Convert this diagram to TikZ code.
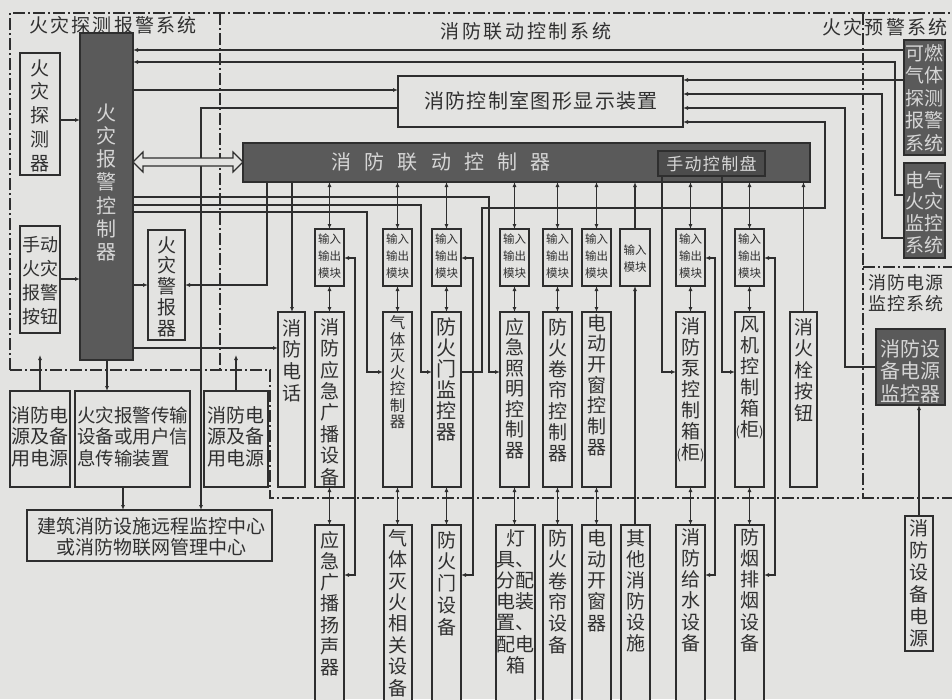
\documentclass[tikz,border=0pt]{standalone}
\usepackage{fontspec}
\setmainfont{Noto Sans CJK SC}
\usetikzlibrary{arrows.meta,fit}
\definecolor{bg}{HTML}{E3E3E1}
\definecolor{lc}{HTML}{2E2E2E}
\definecolor{tc}{HTML}{303030}
\definecolor{dk}{HTML}{5A5A5A}
\definecolor{dkt}{HTML}{D6D6D6}
\definecolor{mp}{HTML}{4C4C4C}
\newcommand{\mkbox}[6][bx]{\node[#1, fit={(#3,#4)(#5,#6)}] (#2) {};}
\newcommand{\fs}[2]{\fontsize{#1}{#2}\selectfont}
\newcommand{\gui}{{\fs{13}{13}(}柜{\fs{13}{13})}}
\begin{document}
\begin{tikzpicture}[x=1pt,y=-1pt,
 bx/.style={draw=lc, line width=1.3pt, fill=bg, inner sep=0pt, outer sep=0pt},
 dbx/.style={bx, fill=dk},
 tx/.style={text=tc, inner sep=0pt, align=center},
 dtx/.style={tx, text=dkt},
 wire/.style={draw=lc, line width=1.1pt},
 ar/.style={wire, -{Latex[length=5pt,width=4pt]}},
 bar/.style={wire, {Latex[length=5pt,width=4pt]}-{Latex[length=5pt,width=4pt]}},
 frame/.style={draw=lc, line width=1.2pt, dash pattern=on 12pt off 3pt on 2pt off 3pt},
]
\useasboundingbox (0,0) rectangle (952,699);
\clip (0,0) rectangle (952,699);
\fill[bg] (0,0) rectangle (952,699);

% frames
\draw[frame] (10,370) -- (10,13) -- (952,13);
\draw[frame] (220,13) -- (220,370);
\draw[frame] (10,370) -- (270,370) -- (270,498) -- (952,498);
\draw[frame] (863,13) -- (863,498);
\draw[frame] (863,267) -- (952,267);

% titles
\node[tx,font=\fs{19}{19}\addfontfeature{LetterSpace=12}] (t1) at (113,25) {火灾探测报警系统};
\node[tx,font=\fs{19}{19}\addfontfeature{LetterSpace=14}] (t2) at (526,31) {消防联动控制系统};
\node[tx,font=\fs{19}{19}\addfontfeature{LetterSpace=12}] (t3) at (885,27) {火灾预警系统};
\node[tx,font=\fs{18}{21}\addfontfeature{LetterSpace=4},align=left] (t4) at (906,293.5) {消防电源\\监控系统};

% left system
\mkbox{det}{20}{53}{60}{175}
\node[tx,font=\fs{19}{23.75}] (det-t) at (40,115.5) {火\\灾\\探\\测\\器};
\mkbox[dbx]{facp}{80}{33}{133}{360}
\node[dtx,font=\fs{20}{23.2}] (facp-t) at (106.5,182.5) {火\\灾\\报\\警\\控\\制\\器};
\mkbox{mcp}{20}{226}{60}{333}
\node[tx,font=\fs{18}{24}] (mcp-t) at (40,281) {手动\\火灾\\报警\\按钮};
\mkbox{alarm}{148}{230}{185}{340}
\node[tx,font=\fs{19}{20.75}] (alarm-t) at (166.5,286.5) {火\\灾\\警\\报\\器};
\mkbox{pw1}{10}{391}{70}{487}
\node[tx,font=\fs{19}{21.5}] (pw1-t) at (40,436.5) {消防电\\源及备\\用电源};
\mkbox{trans}{75}{391}{190}{487}
\node[tx,font=\fs{18.5}{21.5},align=left] (trans-t) at (132.5,436.5) {火灾报警传输\\设备或用户信\\息传输装置};
\mkbox{pw2}{204}{391}{268}{487}
\node[tx,font=\fs{19}{21.5}] (pw2-t) at (236,436.5) {消防电\\源及备\\用电源};
\mkbox{remote}{27}{510}{272}{561}
\node[tx,font=\fs{19}{20.5}] (remote-t) at (151,537) {建筑消防设施远程监控中心\\或消防物联网管理中心};

% display and linkage controller
\mkbox{disp}{398}{76}{683}{127}
\node[tx,font=\fs{20}{20}\addfontfeature{LetterSpace=7}] (disp-t) at (541,101) {消防控制室图形显示装置};
\mkbox[dbx]{ctrl}{243}{143}{810}{182}
\node[dtx,font=\fs{20}{20}\addfontfeature{LetterSpace=66}] (ctrl-t) at (441,162) {消防联动控制器};
\node[bx, fill=mp, fit={(658,151)(765,176)}] (mpanel) {};
\node[dtx,font=\fs{17}{17}\addfontfeature{LetterSpace=8}] (mpanel-t) at (711.5,163.5) {手动控制盘};

% right systems
\mkbox[dbx]{gas}{904}{40}{945}{155}
\node[dtx,font=\fs{19}{22.5}] (gas-t) at (924.5,98) {可燃\\气体\\探测\\报警\\系统};
\mkbox[dbx]{elec}{904}{163}{945}{258}
\node[dtx,font=\fs{19}{21.7}] (elec-t) at (924.5,212.5) {电气\\火灾\\监控\\系统};
\mkbox[dbx]{psm}{876}{329}{945}{405}
\node[dtx,font=\fs{20}{22.5}] (psm-t) at (910.5,371) {消防设\\备电源\\监控器};
\mkbox{psu}{905}{516}{933}{651}
\node[tx,font=\fs{19}{22}] (psu-t) at (919,583) {消\\防\\设\\备\\电\\源};

% modules
\foreach \n/\a/\b in {m1/315/344, m2/383/412, m3/432/461, m4/500/529, m5/543/572, m6/582/611, m7/676/705, m8/735/764} {
 \mkbox{\n}{\a}{229}{\b}{286}
 \node[tx,font=\fs{11.5}{17}] (\n-t) at ({(\a+\b)/2},256) {输入\\输出\\模块};
}
\mkbox{min}{620}{229}{650}{286}
\node[tx,font=\fs{11.5}{17}] (min-t) at (635,258.5) {输入\\模块};

% controllers
\mkbox{phone}{278}{312}{305}{487}
\node[tx,font=\fs{19}{21.7}] (phone-t) at (291.5,360.5) {消\\防\\电\\话};
\mkbox{c1}{315}{312}{344}{487}
\node[tx,font=\fs{19}{21.4}] (c1-t) at (329.5,402) {消\\防\\应\\急\\广\\播\\设\\备};
\mkbox{c2}{383}{312}{412}{487}
\node[tx,font=\fs{15.5}{16.5}] (c2-t) at (397.5,372.5) {气\\体\\灭\\火\\控\\制\\器};
\mkbox{c3}{432}{312}{461}{487}
\node[tx,font=\fs{20}{21}] (c3-t) at (446.5,379.5) {防\\火\\门\\监\\控\\器};
\mkbox{c4}{500}{312}{529}{487}
\node[tx,font=\fs{19}{20.5}] (c4-t) at (514.5,388.5) {应\\急\\照\\明\\控\\制\\器};
\mkbox{c5}{543}{312}{572}{487}
\node[tx,font=\fs{19}{21}] (c5-t) at (557.5,390) {防\\火\\卷\\帘\\控\\制\\器};
\mkbox{c6}{582}{312}{611}{487}
\node[tx,font=\fs{19}{20.7}] (c6-t) at (596.5,385) {电\\动\\开\\窗\\控\\制\\器};
\mkbox{c7}{676}{312}{705}{487}
\node[tx,font=\fs{19}{21}] (c7-t) at (690.5,390) {消\\防\\泵\\控\\制\\箱\\\gui};
\mkbox{c8}{735}{312}{764}{487}
\node[tx,font=\fs{19}{21}] (c8-t) at (749.5,377.5) {风\\机\\控\\制\\箱\\\gui};
\mkbox{hyd}{790}{312}{817}{487}
\node[tx,font=\fs{19}{21.5}] (hyd-t) at (803.5,370) {消\\火\\栓\\按\\钮};

% devices
\mkbox{d1}{315}{525}{344}{720}
\node[tx,font=\fs{19}{21.2}] (d1-t) at (329.5,603.5) {应\\急\\广\\播\\扬\\声\\器};
\mkbox{d2}{384}{525}{412}{720}
\node[tx,font=\fs{19}{21.4}] (d2-t) at (398,613) {气\\体\\灭\\火\\相\\关\\设\\备};
\mkbox{d3}{432}{525}{461}{720}
\node[tx,font=\fs{19}{21.75}] (d3-t) at (446.5,583.5) {防\\火\\门\\设\\备};
\mkbox{d4}{496}{525}{535}{720}
\node[tx,font=\fs{19}{21.2}] (d4-t) at (515.5,601.5) {灯\\具、\\分配\\电装\\置、\\配电\\箱};
\mkbox{d5}{543}{525}{572}{720}
\node[tx,font=\fs{19}{21.4}] (d5-t) at (557.5,591.5) {防\\火\\卷\\帘\\设\\备};
\mkbox{d6}{582}{525}{611}{720}
\node[tx,font=\fs{19}{21.25}] (d6-t) at (596.5,580.5) {电\\动\\开\\窗\\器};
\mkbox{oth}{621}{525}{650}{720}
\node[tx,font=\fs{19}{21}] (oth-t) at (635.5,590.5) {其\\他\\消\\防\\设\\施};
\mkbox{d7}{676}{525}{705}{720}
\node[tx,font=\fs{19}{21.2}] (d7-t) at (690.5,590) {消\\防\\给\\水\\设\\备};
\mkbox{d8}{735}{525}{764}{720}
\node[tx,font=\fs{19}{21.2}] (d8-t) at (749.5,590) {防\\烟\\排\\烟\\设\\备};

% connectors: top area
\draw[ar] (gas.west |- 0,50) -- (facp.east |- 0,50);
\draw[ar] (elec.west |- 0,195) -| (895,62) -- (facp.east |- 0,62);
\draw[ar] (facp.east |- 0,90) -- (disp.west |- 0,90);
\draw[ar] (disp.west |- 0,108) -| (remote.north -| 201,0);
\draw[ar] (gas.west |- 0,80) -- (disp.east |- 0,80);
\draw[ar] (elec.west |- 0,238) -| (882,94) -- (disp.east |- 0,94);
\draw[ar] (psm.west |- 0,367) -| (845,108) -- (disp.east |- 0,108);
\draw[ar] (c3.east |- 0,372) -| (482,208) -| (825,122) -- (disp.east |- 0,122);

% FACP outputs
\draw[ar] (facp.east |- 0,212) -| (367,372) -- (c2.west |- 0,372);
\draw[ar] (facp.east |- 0,205) -| (421,372) -- (c3.west |- 0,372);
\draw[ar] (facp.east |- 0,197) -| (489,372) -- (c4.west |- 0,372);
\draw[wire, fill=bg] (facp.east |- 0,162) -- ++(10,-10) -- ++(0,6) -- ++(90,0) -- ++(0,-6) -- ++(10,10) -- ++(-10,10) -- ++(0,-6) -- ++(-90,0) -- ++(0,6) -- cycle;
\draw[ar] (facp.east |- 0,285) -- (alarm.west |- 0,285);
\draw[ar] (ctrl.south -| 267,0) |- (alarm.east |- 0,285);
\draw[ar] (ctrl.south -| 292,0) -- (phone.north -| 292,0);
\draw[ar] (facp.east |- 0,348) -- (phone.west |- 0,348);
\draw[ar] (det.east |- 0,120) -- (facp.west |- 0,120);
\draw[ar] (mcp.east |- 0,279) -- (facp.west |- 0,279);
\draw[ar] (facp.south -| 107,0) -- (trans.north -| 107,0);
\coordinate (pu1) at (40,355);
\coordinate (pu2) at (236,355);
\draw[ar] (pw1.north -| pu1) -- (pu1);
\draw[ar] (pw2.north -| pu2) -- (pu2);
\draw[ar] (trans.south -| 123,0) -- (remote.north -| 123,0);

% modules links
\foreach \m/\c/\d in {m1/c1/d1, m2/c2/d2, m3/c3/d3, m4/c4/d4, m5/c5/d5, m6/c6/d6, m7/c7/d7, m8/c8/d8} {
 \draw[bar] (ctrl.south -| \m.north) -- (\m.north);
 \draw[bar] (\m.south) -- (\c.north);
 \draw[bar] (\c.south) -- (\c.south |- \d.north);
}
\draw[ar] (min.north) -- (ctrl.south -| min.north);
\draw[ar] (min.south |- oth.north) -- (min.south);
\draw[ar] (hyd.north) -- (ctrl.south -| hyd.north);
\draw[ar] (psu.north) -- (psu.north |- psm.south);

\draw[bar] (m1.east |- 0,258) -| (355,575) -- (d1.east |- 0,575);
\draw[bar] (m3.east |- 0,258) -| (473,575) -- (d3.east |- 0,575);
\draw[bar] (m7.east |- 0,258) -| (715,575) -- (d7.east |- 0,575);
\draw[bar] (m8.east |- 0,258) -| (775,575) -- (d8.east |- 0,575);

\draw[ar] (mpanel.south -| 662,0) |- (c7.west |- 0,372);
\draw[ar] (mpanel.south -| 722,0) |- (c8.west |- 0,372);
\end{tikzpicture}
\end{document}
